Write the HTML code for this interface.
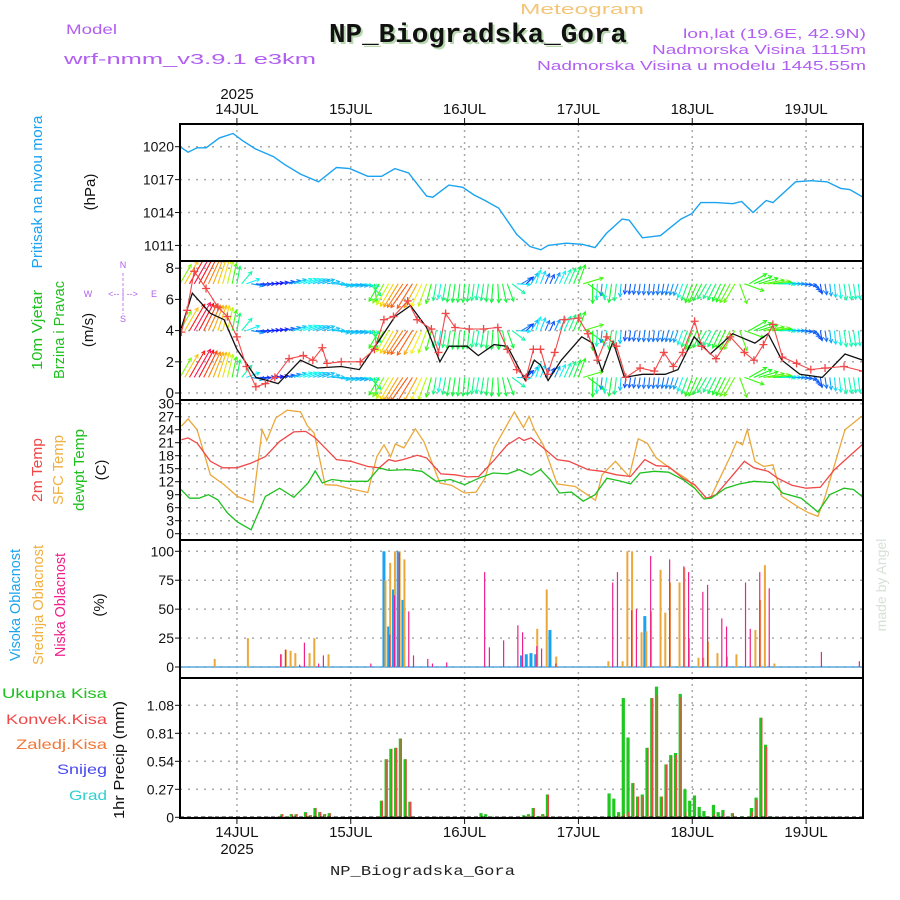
<!DOCTYPE html>
<html><head><meta charset="utf-8"><title>Meteogram NP_Biogradska_Gora</title>
<style>
html,body{margin:0;padding:0;background:#fff;}
svg{display:block;}
text{font-family:"Liberation Sans",sans-serif;}
.mono{font-family:"Liberation Mono",monospace;}
</style></head>
<body>
<svg id="chart" width="900" height="900" viewBox="0 0 900 900" xmlns="http://www.w3.org/2000/svg">
  <rect x="0" y="0" width="900" height="900" fill="#fff"/>
  <!-- header -->
  <text x="66" y="34" font-size="14" fill="#b15ff0" textLength="51" lengthAdjust="spacingAndGlyphs">Model</text>
  <text x="64" y="64" font-size="15" fill="#b15ff0" textLength="252" lengthAdjust="spacingAndGlyphs">wrf-nmm_v3.9.1 e3km</text>
  <text x="520" y="14" font-size="15" fill="#f3c67a" textLength="124" lengthAdjust="spacingAndGlyphs">Meteogram</text>
  <text x="331" y="44" font-size="27" font-weight="bold" class="mono" fill="#b8d8b0" textLength="298" lengthAdjust="spacingAndGlyphs">NP_Biogradska_Gora</text>
  <text x="329" y="42" font-size="27" font-weight="bold" class="mono" fill="#111" textLength="298" lengthAdjust="spacingAndGlyphs">NP_Biogradska_Gora</text>
  <text x="866" y="38" font-size="13" fill="#b15ff0" text-anchor="end" textLength="183" lengthAdjust="spacingAndGlyphs">lon,lat (19.6E, 42.9N)</text>
  <text x="866" y="54" font-size="13" fill="#b15ff0" text-anchor="end" textLength="214" lengthAdjust="spacingAndGlyphs">Nadmorska Visina 1115m</text>
  <text x="866" y="70" font-size="13" fill="#b15ff0" text-anchor="end" textLength="329" lengthAdjust="spacingAndGlyphs">Nadmorska Visina u modelu 1445.55m</text>
  <text x="237" y="99" font-size="15" fill="#111" text-anchor="middle">2025</text>
  <g id="topDates"></g>
  <g id="botDates"></g>
  <text x="237" y="854" font-size="15" fill="#111" text-anchor="middle">2025</text>
  <text x="330" y="875" font-size="14" class="mono" fill="#222" textLength="185" lengthAdjust="spacingAndGlyphs">NP_Biogradska_Gora</text>
  <text transform="translate(886,585) rotate(-90)" font-size="14" fill="#d8e0d8" text-anchor="middle" font-family="Liberation Serif">made by Angel</text>

  <!-- axis titles -->
  <text transform="translate(42,192) rotate(-90)" font-size="15" fill="#1aa3f0" text-anchor="middle" textLength="153" lengthAdjust="spacingAndGlyphs">Pritisak na nivou mora</text>
  <text transform="translate(95,192) rotate(-90)" font-size="15" fill="#111" text-anchor="middle">(hPa)</text>
  <text transform="translate(42,330) rotate(-90)" font-size="15" fill="#1ec01e" text-anchor="middle" textLength="80" lengthAdjust="spacingAndGlyphs">10m Vjetar</text>
  <text transform="translate(64,330) rotate(-90)" font-size="15" fill="#1ec01e" text-anchor="middle" textLength="98" lengthAdjust="spacingAndGlyphs">Brzina i Pravac</text>
  <text transform="translate(93,330) rotate(-90)" font-size="15" fill="#111" text-anchor="middle">(m/s)</text>
  <g font-size="9" fill="#b15ff0" text-anchor="middle">
    <text x="123" y="268">N</text>
    <text x="88" y="297">W</text>
    <text x="154" y="297">E</text>
    <text x="123" y="322">S</text>
    <text x="123" y="297" font-size="9">&lt;-- | --&gt;</text>
    <line x1="123" y1="273" x2="123" y2="314" stroke="#b15ff0" stroke-width="0.8" stroke-dasharray="3,2"/>
  </g>
  <text transform="translate(42,470) rotate(-90)" font-size="15" fill="#f04848" text-anchor="middle" textLength="64" lengthAdjust="spacingAndGlyphs">2m Temp</text>
  <text transform="translate(63,470) rotate(-90)" font-size="15" fill="#f0b040" text-anchor="middle" textLength="70" lengthAdjust="spacingAndGlyphs">SFC Temp</text>
  <text transform="translate(84,470) rotate(-90)" font-size="15" fill="#1ec01e" text-anchor="middle" textLength="82" lengthAdjust="spacingAndGlyphs">dewpt Temp</text>
  <text transform="translate(106,470) rotate(-90)" font-size="15" fill="#111" text-anchor="middle">(C)</text>
  <text transform="translate(20,605) rotate(-90)" font-size="15" fill="#1aa3f0" text-anchor="middle" textLength="112" lengthAdjust="spacingAndGlyphs">Visoka Oblacnost</text>
  <text transform="translate(43,605) rotate(-90)" font-size="15" fill="#f0b040" text-anchor="middle" textLength="120" lengthAdjust="spacingAndGlyphs">Srednja Oblacnost</text>
  <text transform="translate(65,605) rotate(-90)" font-size="15" fill="#f0208a" text-anchor="middle" textLength="104" lengthAdjust="spacingAndGlyphs">Niska Oblacnost</text>
  <text transform="translate(104,605) rotate(-90)" font-size="15" fill="#111" text-anchor="middle">(%)</text>
  <g font-size="14" text-anchor="end">
    <text x="107" y="698" fill="#1ec01e" textLength="105" lengthAdjust="spacingAndGlyphs">Ukupna Kisa</text>
    <text x="107" y="724" fill="#f04848" textLength="101" lengthAdjust="spacingAndGlyphs">Konvek.Kisa</text>
    <text x="107" y="749" fill="#f07838" textLength="91" lengthAdjust="spacingAndGlyphs">Zaledj.Kisa</text>
    <text x="107" y="774" fill="#4848f0" textLength="50" lengthAdjust="spacingAndGlyphs">Snijeg</text>
    <text x="107" y="800" fill="#30d0d0" textLength="38" lengthAdjust="spacingAndGlyphs">Grad</text>
  </g>
  <text transform="translate(124,760) rotate(-90)" font-size="15" fill="#111" text-anchor="middle" textLength="118" lengthAdjust="spacingAndGlyphs">1hr Precip (mm)</text>

  <g id="grid"></g>
  <g id="marks"></g>
  <g id="axes"></g>
</svg>
<script>
// ---------- data ----------
const dayLabels = ["14JUL","15JUL","16JUL","17JUL","18JUL","19JUL"];
const dayHours = [12,36,60,84,108,132];

const pressHours = [0,1.7,3.6,5.5,8.3,11.2,13,15.9,19.7,22,25.4,29.2,33,35.8,39.6,42.5,45.3,48.2,52,53.3,56.7,59.6,62,64.3,67.2,71,73.8,76.1,77.6,81.4,84.8,87.5,89.9,93.2,94.7,97.5,101.3,105.6,107.9,109.8,113,116.5,118.4,120.8,123.6,125,129.8,133,136.4,139.3,141.2,144];
const pressVals = [1020.0,1019.5,1019.9,1019.9,1020.8,1021.2,1020.6,1019.8,1019.1,1018.4,1017.5,1016.8,1018.1,1018.0,1017.3,1017.3,1018.0,1017.6,1015.5,1015.4,1016.5,1016.3,1015.6,1015.1,1014.4,1012.0,1010.9,1010.6,1011.0,1011.2,1011.1,1010.8,1012.1,1013.4,1013.3,1011.7,1011.9,1013.4,1013.9,1014.9,1014.9,1014.8,1015.0,1014.0,1015.1,1014.9,1016.8,1016.9,1016.8,1016.2,1016.1,1015.4];
const pressTicks = [1011,1014,1017,1020];

const speedHours = [0,2.6,6.4,9.3,12,16,20.7,25.4,29,34,37.8,42.5,45.3,48.6,52,54.8,56.7,60.5,62.9,66.2,69,72.8,74.7,76,77.6,80.4,84.7,87,89,91.3,93.7,97.5,102.3,105,108.4,111.8,116.5,121.2,124,126.9,130.7,135.4,140.2,144];
const speedVals = [3.9,6.4,5.1,4.7,2.8,1.0,0.6,2.1,1.6,1.7,1.5,3.6,4.9,5.6,4.2,2.0,3.0,3.0,2.4,3.1,3.0,0.8,2.1,1.8,0.8,2.1,3.6,3.2,1.4,3.3,1.0,1.2,1.2,1.5,3.6,2.5,3.8,3.2,3.8,2.1,1.2,1.0,2.5,2.1];
const gustHours = [0.3,1.5,3,5.5,8,10,12,14,16,18,20,23,26,28,30,31,34,38,41,43,45,48,50,53,54.5,56,58,61,64,67,69,71,73,74.5,76,77.5,79,81,84,86,88,90,92,94,97,100,102,104,106,108.5,110,113,116,119,121,123,125,127,130,133,136,140,144];
const gustVals = [3.9,5.3,7.8,6.7,5.5,4.9,3.6,1.7,0.4,0.6,1.0,2.2,2.4,2.1,2.9,1.9,2.0,2.0,2.8,4.7,4.9,5.9,4.7,4.1,2.6,5.1,4.2,4.1,4.1,4.2,2.8,1.5,1.0,2.8,2.8,1.2,2.6,4.7,4.8,3.8,2.1,3.6,3.0,1.0,1.6,1.4,2.6,1.7,2.6,4.6,3.0,2.2,3.6,2.6,2.1,3.1,4.4,2.3,1.9,1.5,1.6,1.7,1.4];
// wind direction (screen angle of drawn vector, degrees, 90 = up)
const dirHours = [0,3,6,9,12,15,18,21,24,27,30,33,36,39,42,45,48,51,54,57,60,63,66,69,72,75,78,81,84,87,90,93,96,99,102,105,108,111,114,117,120,123,126,129,132,135,138,141,144];
const dirVals = [60,60,65,75,80,-10,0,10,20,20,20,-10,-10,-10,-120,-120,-125,-115,-100,-100,-95,-100,-95,-70,30,70,65,65,70,-90,-100,-95,-100,-95,-100,-110,-110,-120,-115,-120,30,10,0,0,-10,-80,-85,-80,-85];
const windTicks = [0,2,4,6,8];
const barbLevels = [1,4,7];

const t2Hours = [0.3,1.7,3.6,6.4,9,12,15,18,21,24,26.5,28.5,30.6,33,36,39.6,42,44,45.4,47,50,52,55,58,60.5,63,66,69,71.5,72.5,74,76.6,79.5,82,86,89,92,95,98,100.4,103,106,108.5,111,113,116,119,121,124,126,129,132,135,138,141,144];
const t2Vals = [21.7,22.1,20.9,16.7,15.2,15.2,16.3,17.8,21.3,23.5,23.6,22.1,19.8,17.1,16.7,15.5,15.2,17.1,16.7,17.1,18.1,17.5,13.8,13.6,13.1,13.2,16.7,20.5,22.2,21.5,22.1,19.8,17.1,16.7,14.8,14.4,13.6,13.2,17.1,15.7,15.5,12.8,11.3,8.2,9.0,12.8,16.7,15.2,14.4,12.8,11.2,10.5,10.7,14.8,17.8,20.7];
const sfcHours = [0.3,1.7,3.6,6.4,9.3,12.1,15.4,17.3,18.3,20.2,22.6,25.4,26.8,28.3,30.6,33,35.8,39.6,41.5,43,44.4,45.4,47.2,49.6,51.4,54.8,57.2,60,62.4,64.3,66.2,70.5,72.4,73.6,74.7,76.6,79.5,83.3,87.6,89,91.8,94.7,96.6,98.5,100.4,103.2,107,110.3,111.8,116,117.4,118.6,119.6,121.2,123.1,125,126.9,130.7,132.6,134.5,135.9,140.2,143.5,144];
const sfcVals = [24.8,26.5,24.0,13.6,11.3,8.6,7.2,24.0,21.5,26.7,28.5,28.1,25.0,23.2,11.3,11.2,10.4,9.5,17.8,20.5,17.8,20.7,19.8,24.2,21.3,11.7,11.2,9.4,9.6,12.8,19.8,28.1,24.5,27.1,24.0,20.5,11.5,10.9,7.7,13.6,16.7,13.2,21.9,20.9,17.5,15.2,12.5,8.2,8.2,17.8,21.3,20.5,24.0,16.7,15.5,15.9,8.6,5.9,4.8,4.0,8.2,24.0,26.9,26.9];
const dewHours = [0,2,4,6,8,10,12,15,18,21,24,27,28.5,30,32,35,39.6,42,44,48,51,54,57,60,63,66,69,71.5,74,76,78,80,82.5,85,87.5,90,93,95,97,100,103,106,108.5,110.5,112,115,118,121,125,127,131,134.5,137,140,142,144];
const dewVals = [10.4,8.2,8.2,9.0,7.8,4.8,2.8,0.9,8.6,10.5,8.4,11.7,14.5,11.7,12.5,12.1,12.1,15.2,14.6,14.8,14.4,12.1,12.5,11.3,12.8,14.0,13.8,14.8,13.5,14.8,12.5,9.4,9.6,7.5,9.0,12.8,12.1,11.5,14.0,14.4,14.2,12.5,10.5,8.0,8.2,10.5,11.5,12.1,11.8,9.4,8.2,5.0,9.0,10.5,10.2,8.4];
const tempTicks = [0,3,6,9,12,15,18,21,24,27,30];

const cloudMidHours = [7,14,21,22,23,24,27,28,31,43,44,45,46,47,75,77,79,90,93,94,95,97,98,99,101,102,103,105,106,107,109,110,111,113,115,117,121,122,123,125];
const cloudMidVals = [7,25,11,15,14,12,12,25,11,75,90,100,100,93,33,67,9,5,5,100,100,30,31,48,84,47,73,73,86,25,8,8,22,12,9,11,32,58,88,3];
const cloudHighHours = [43,44,45,46,47,72,73,74,75,78,98];
const cloudHighVals = [100,35,67,100,58,10,11,12,11,32,44];
const cloudLowHours = [21,22,25,26,29,30,40,44,45,46,48,49,52,53,56,64,65,68,71,72,75,76,79,91,92,95,96,99,103,106,107,110,111,114,115,119,120,122,124,135,143];
const cloudLowVals = [11,15,2,21,3,10,3,28,62,99,48,10,7,3,4,82,17,23,36,30,18,16,3,73,82,49,50,96,93,87,82,65,71,42,35,73,33,82,68,13,5];
const cloudTicks = [0,25,50,75,100];

const precipHours = [21,23,24,26,27,28,29,30,31,42,43,44,45,46,47,48,63,64,72,73,74,75,76,77,90,91,92,93,94,95,96,97,98,99,100,101,102,103,104,105,106,107,108,109,110,111,112,113,114,116,118,120,121,122,123,124];
const precipTotal = [0.03,0.03,0.03,0.05,0.02,0.09,0.05,0.03,0.04,0.16,0.56,0.66,0.67,0.76,0.56,0.15,0.04,0.03,0.02,0.03,0.09,0.01,0.03,0.22,0.23,0.18,0.05,1.15,0.77,0.33,0.20,0.22,0.67,1.15,1.26,0.20,0.51,0.60,0.62,1.19,0.27,0.16,0.21,0.10,0.06,0.01,0.12,0.05,0.07,0.04,0.01,0.09,0.19,0.96,0.70,0.01];
const precipConv = [0.03,0.03,0.03,0.04,0.02,0.09,0.05,0.03,0.04,0.16,0.56,0.66,0.67,0.76,0.56,0.15,0,0,0,0.02,0.09,0,0.03,0.22,0,0,0.02,0.03,0.05,0.33,0.20,0.20,0.67,1.15,1.18,0.20,0.51,0.58,0.60,1.16,0.05,0,0,0,0,0,0.03,0,0.05,0.04,0,0.05,0.17,0.96,0.68,0];
const precipTicks = [0,0.27,0.54,0.81,1.08];

// ---------- scales ----------
const X0 = 180, X1 = 863;
const X = h => X0 + h * (X1 - X0) / 144;
const yP = p => 146.7 + (1020 - p) * 10.97;
const yW = v => 393 - v * 15.6;
const yT = t => 533.7 - t * 4.333;
const yC = c => 667 - c * 1.157;
const yR = r => 817.3 - r * 103.7;
const panels = [[124,261],[261,400],[400,540],[540,678],[678,818]];

const NS = "http://www.w3.org/2000/svg";
function mk(tag, attrs, parent) {
  const e = document.createElementNS(NS, tag);
  for (const k in attrs) e.setAttribute(k, attrs[k]);
  parent.appendChild(e);
  return e;
}
function interp(hs, vs, h) {
  if (h <= hs[0]) return vs[0];
  for (let i = 1; i < hs.length; i++) {
    if (h <= hs[i]) { const f = (h - hs[i-1]) / (hs[i] - hs[i-1]); return vs[i-1] + f * (vs[i] - vs[i-1]); }
  }
  return vs[vs.length - 1];
}
const grid = document.getElementById('grid');
const marks = document.getElementById('marks');
const axes = document.getElementById('axes');

const defs = mk('defs', {}, document.getElementById('chart'));
panels.forEach((p, i) => {
  const cp = mk('clipPath', {id: 'clip' + i}, defs);
  mk('rect', {x: X0, y: p[0], width: X1 - X0, height: p[1] - p[0]}, cp);
});

dayHours.forEach((h, i) => {
  panels.forEach((p, pi) => {
    const l = mk('line', {x1: X(h), x2: X(h), y1: p[0], y2: p[1], stroke: '#aaa', 'stroke-width': 1.5, 'stroke-dasharray': '2,4'}, grid);
    
    
  });
  const t1 = mk('text', {x: X(h), y: 114, 'font-size': 15, fill: '#111', 'text-anchor': 'middle'}, document.getElementById('topDates'));
  t1.textContent = dayLabels[i];
  
  
  const t2 = mk('text', {x: X(h), y: 837, 'font-size': 15, fill: '#111', 'text-anchor': 'middle'}, document.getElementById('botDates'));
  t2.textContent = dayLabels[i];
  
  
  const tk1 = mk('line', {x1: X(h), x2: X(h), y1: 118, y2: 124, stroke: '#111'}, axes);
  
  
  const tk2 = mk('line', {x1: X(h), x2: X(h), y1: 818, y2: 824, stroke: '#111'}, axes);
  
  
});

function yAxis(ticks, yf, fmt, name, fs) {
  ticks.forEach(v => {
    const y = yf(v);
    const g = mk('line', {x1: X0, x2: X1, y1: y, y2: y, stroke: '#aaa', 'stroke-width': 1.5, 'stroke-dasharray': '2,6'}, grid);
    
    
    const tk = mk('line', {x1: X0 - 5, x2: X0, y1: y, y2: y, stroke: '#111'}, axes);
    
    
    const t = mk('text', {x: X0 - 6, y: y + 5, 'font-size': fs, fill: '#111', 'text-anchor': 'end'}, axes);
    t.textContent = fmt(v);
    
    
  });
}
yAxis(pressTicks, yP, v => String(v), 'pressure', 14);
yAxis(windTicks, yW, v => String(v), 'wind', 15);
yAxis(tempTicks, yT, v => String(v), 'temp', 14);
yAxis(cloudTicks, yC, v => String(v), 'cloud', 14);
yAxis(precipTicks, yR, v => v === 0 ? '0' : v.toFixed(2), 'precip', 14);

function polyline(hs, vs, yf, color, clip, name, w) {
  const pts = hs.map((h, i) => X(h).toFixed(1) + ',' + yf(vs[i]).toFixed(1)).join(' ');
  const pl = mk('polyline', {points: pts, fill: 'none', stroke: color, 'stroke-width': w || 1.3, 'clip-path': 'url(#clip' + clip + ')'}, marks);
  
  
  return pl;
}

polyline(pressHours, pressVals, yP, '#1aa3f0', 0, 'pressure-line', 1.4);

const windG = mk('g', {'clip-path': 'url(#clip1)'}, marks);


for (let h = 0; h <= 144; h++) {
  const sp = interp(speedHours, speedVals, h);
  const ang = interp(dirHours, dirVals, h) * Math.PI / 180;
  const len = 6 + sp * 4.2;
  const hue = ((270 - sp * 46) % 360 + 360) % 360;
  barbLevels.forEach(lv => {
    const x = X(h), y = yW(lv);
    const x2 = x + Math.cos(ang) * len, y2 = y - Math.sin(ang) * len;
    const ln = mk('line', {x1: x, y1: y, x2: x2, y2: y2, stroke: 'hsl(' + hue + ',95%,52%)', 'stroke-width': 1.1}, windG);
    
    
    const a1 = ang + Math.PI - 0.5, a2 = ang + Math.PI + 0.5;
    const hd = mk('polyline', {points: (x2 + Math.cos(a1) * 4) + ',' + (y2 - Math.sin(a1) * 4) + ' ' + x2 + ',' + y2 + ' ' + (x2 + Math.cos(a2) * 4) + ',' + (y2 - Math.sin(a2) * 4), fill: 'none', stroke: 'hsl(' + hue + ',95%,52%)', 'stroke-width': 1}, windG);
    
    
  });
}
polyline(speedHours, speedVals, yW, '#111', 1, 'wind-speed-line', 1.3);
polyline(gustHours, gustVals, yW, '#f04848', 1, 'wind-gust-line', 1.1);
gustHours.forEach((h, i) => {
  const x = X(h), y = yW(gustVals[i]);
  const p = mk('path', {d: `M${x-4},${y}H${x+4}M${x},${y-4}V${y+4}`, stroke: '#f04848', 'stroke-width': 1.3, 'clip-path': 'url(#clip1)'}, marks);
  
  
});

polyline(sfcHours, sfcVals, yT, '#eba83a', 2, 'sfc-temp-line', 1.3);
polyline(t2Hours, t2Vals, yT, '#f04848', 2, 't2m-line', 1.3);
polyline(dewHours, dewVals, yT, '#1ec01e', 2, 'dewpoint-line', 1.3);

const base = mk('line', {x1: X0, x2: X1, y1: yC(0), y2: yC(0), stroke: '#5aa9e0', 'stroke-width': 1.5}, marks);


function bars(hs, vs, yf, color, off, w, name, clip) {
  hs.forEach((h, i) => {
    const y = yf(vs[i]), y0 = yf(0);
    if (vs[i] <= 0) return;
    const r = mk('rect', {x: X(h) + off, y: y, width: w, height: Math.max(0, y0 - y), fill: color, 'clip-path': 'url(#clip' + clip + ')'}, marks);
    
    
  });
}
bars(cloudHighHours, cloudHighVals, yC, '#1aa3f0', -1.5, 3, 'cloud-high-bar', 3);
bars(cloudMidHours, cloudMidVals, yC, '#eba83a', 0.5, 2, 'cloud-mid-bar', 3);
bars(cloudLowHours, cloudLowVals, yC, '#f0208a', 0.5, 1.2, 'cloud-low-bar', 3);

bars(precipHours, precipTotal, yR, '#1ec81e', 0.6, 3.2, 'precip-total-bar', 4);
bars(precipHours, precipConv, yR, '#f04848', 2.3, 1.5, 'precip-convective-bar', 4);
const pb = mk('line', {x1: X0, x2: X1, y1: yR(0), y2: yR(0), stroke: '#111', 'stroke-width': 1.5, 'stroke-dasharray': '4,3'}, marks);



panels.forEach((p, i) => {
  const r = mk('rect', {x: X0, y: p[0], width: X1 - X0, height: p[1] - p[0], fill: 'none', stroke: '#000', 'stroke-width': 2}, axes);
  
  
});
</script>
</body></html>
